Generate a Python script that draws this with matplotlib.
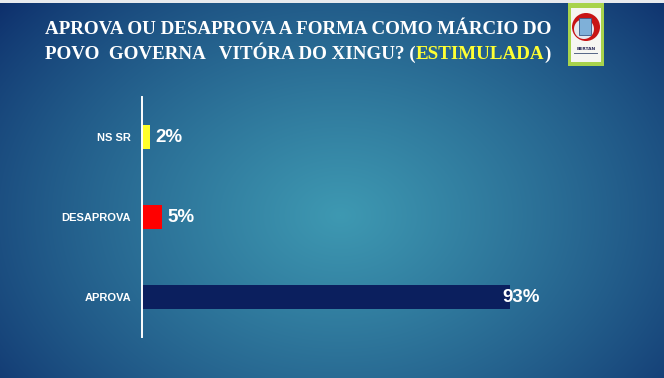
import numpy as np
import matplotlib
matplotlib.use("Agg")
import matplotlib.pyplot as plt
from matplotlib.patches import Rectangle, Circle

# ---- data ----
categories = ["APROVA", "DESAPROVA", "NS SR"]
values = [93, 5, 2]
bar_colors = ["#0b1f5e", "#ff0000", "#ffff2a"]
value_labels = ["93%", "5%", "2%"]
title_line1 = "APROVA OU DESAPROVA A FORMA COMO MÁRCIO DO"
title_line2_parts = ["POVO  GOVERNA   VITÓRA DO XINGU? (", "ESTIMULADA", ")"]
title_line2_colors = ["white", "#ffff33", "white"]

W, H = 664, 378
fig = plt.figure(figsize=(W / 100, H / 100), dpi=100)

# ---- background radial gradient ----
bg = fig.add_axes([0, 0, 1, 1])
yy, xx = np.mgrid[0:H, 0:W]
cx, cy, rx, ry = 340, 215, 450, 330
r = np.sqrt(((xx - cx) / rx) ** 2 + ((yy - cy) / ry) ** 2)
t = np.clip(1 - r, 0, 1) ** 0.8
dark = np.array([12, 44, 106]) / 255
light = np.array([62, 153, 178]) / 255
img = dark[None, None, :] + (light - dark)[None, None, :] * t[..., None]
img[0:3, :, :] = np.array([232, 234, 238]) / 255
bg.imshow(img, extent=(0, W, H, 0), aspect="auto", interpolation="bilinear")
bg.set_xlim(0, W)
bg.set_ylim(H, 0)
bg.axis("off")

# ---- logo ----
bg.add_patch(Rectangle((568, 3), 36, 63, facecolor="#a8d34c", edgecolor="none"))
bg.add_patch(Rectangle((571, 8), 30, 54, facecolor="#f6f6f2", edgecolor="none"))
bg.add_patch(Circle((586, 27), 14, facecolor="#c81414", edgecolor="none"))
bg.add_patch(Circle((584, 29), 10, facecolor="#e4e8ee", edgecolor="none"))
bg.add_patch(Rectangle((579, 18), 12, 17, facecolor="#7fb0d8", edgecolor="#3a5a8a", lw=0.6))
bg.text(586, 49, "BERTAN", color="#2a2a5a", fontsize=3.2, fontweight="bold",
        ha="center", va="center", family="DejaVu Sans")
bg.add_patch(Rectangle((574, 53), 24, 1.2, facecolor="#5a6a8a", edgecolor="none"))

# ---- title ----
fs_title = 13.7
t1 = bg.text(45, 30, title_line1, color="white", fontsize=fs_title, fontweight="bold",
             family="Liberation Serif", ha="left", va="center")
prev = bg.text(45, 53, title_line2_parts[0], color=title_line2_colors[0], fontsize=fs_title,
               fontweight="bold", family="Liberation Serif", ha="left", va="center")
for part, col in zip(title_line2_parts[1:], title_line2_colors[1:]):
    prev = bg.annotate(part, xy=(1, 0), xycoords=prev, va="bottom", ha="left",
                       color=col, fontsize=fs_title, fontweight="bold", family="Liberation Serif")

# ---- chart ----
ax_left, ax_right = 142, 538
ax_top, ax_bottom = 97, 337
ax = fig.add_axes([ax_left / W, (H - ax_bottom) / H, (ax_right - ax_left) / W,
                   (ax_bottom - ax_top) / H])
ax.patch.set_alpha(0)
y = np.arange(len(categories))
ax.barh(y, values, height=0.31, color=bar_colors)
ax.set_xlim(0, 100)
ax.set_ylim(-0.5, 2.5)
ax.set_yticks(y)
ax.set_yticklabels(categories, color="white", fontsize=8, fontweight="bold",
                   family="Liberation Sans")
ax.tick_params(axis="y", length=0, pad=8)
ax.set_xticks([])
for s in ["top", "right", "bottom"]:
    ax.spines[s].set_visible(False)
ax.spines["left"].set_color("white")
ax.spines["left"].set_linewidth(1.4)

label_offsets = [-6, 4, 4]  # points
for yi, v, lab, off in zip(y, values, value_labels, label_offsets):
    ax.annotate(lab, xy=(v, yi), xytext=(off, 0), textcoords="offset points",
                color="white", fontsize=13.5, fontweight="bold", family="Liberation Sans",
                ha="left", va="center")

fig.savefig("out.png", dpi=100)
